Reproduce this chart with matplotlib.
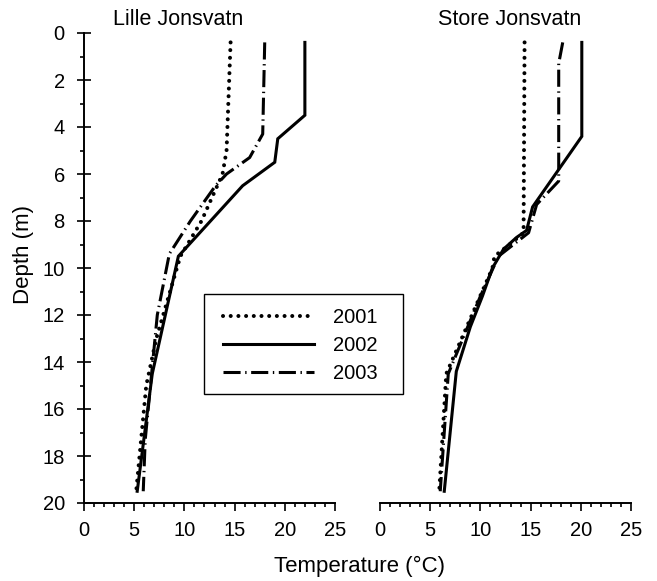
import matplotlib
matplotlib.use("Agg")
import matplotlib.pyplot as plt
from matplotlib.ticker import MultipleLocator
from matplotlib.lines import Line2D
from matplotlib.patches import Rectangle

plt.rcParams['font.family'] = ['Liberation Sans', 'DejaVu Sans']

# ---- data: Lille Jonsvatn ----
lille_2001_depth = [0.4, 5.0, 6.0, 8.0, 9.5, 13.0, 15.0, 19.5]
lille_2001_temp = [14.6, 14.2, 13.8, 11.7, 9.6, 7.2, 6.2, 5.2]
lille_2002_depth = [0.4, 3.5, 4.5, 5.5, 6.5, 9.5, 14.5, 19.5]
lille_2002_temp = [22.0, 22.0, 19.3, 19.0, 15.8, 9.4, 6.8, 5.3]
lille_2003_depth = [0.4, 4.3, 5.3, 6.0, 6.5, 8.0, 9.4, 12.0, 17.3, 19.5]
lille_2003_temp = [18.0, 17.8, 16.5, 14.2, 13.1, 10.6, 8.5, 7.3, 6.1, 5.9]

# ---- data: Store Jonsvatn ----
store_2001_depth = [0.4, 8.5, 9.0, 9.5, 10.0, 14.5, 19.5]
store_2001_temp = [14.4, 14.3, 12.9, 11.4, 11.2, 6.6, 5.9]
store_2002_depth = [0.4, 4.4, 7.4, 8.4, 8.7, 9.2, 10.0, 11.2, 12.5, 14.4, 19.5]
store_2002_temp = [20.1, 20.1, 15.2, 14.6, 13.6, 12.3, 11.2, 10.2, 9.0, 7.6, 6.4]
store_2003_depth = [0.4, 1.3, 6.3, 7.3, 8.5, 9.5, 11.2, 14.5, 19.5]
store_2003_temp = [18.2, 17.8, 17.8, 15.6, 14.8, 11.8, 10.0, 6.8, 6.0]

years = ['2001', '2002', '2003']
titles = ['Lille Jonsvatn', 'Store Jonsvatn']
x_ticks = [0, 5, 10, 15, 20, 25]
y_ticks = [0, 2, 4, 6, 8, 10, 12, 14, 16, 18, 20]

styles = {
    '2001': dict(color='black', lw=2.9, linestyle=(0, (0.01, 1.9)),
                 dash_capstyle='round', solid_capstyle='round'),
    '2002': dict(color='black', lw=2.2, linestyle='-', solid_joinstyle='miter'),
    '2003': dict(color='black', lw=2.2, linestyle=(0, (5.6, 1.5, 0.45, 1.5)),
                 dash_capstyle='butt'),
}

fig = plt.figure(figsize=(6.57, 5.81), dpi=100)
W, H = 657, 581
axL = fig.add_axes([84 / W, 1 - 503 / H, 251 / W, 470 / H])
axR = fig.add_axes([380 / W, 1 - 503 / H, 251 / W, 470 / H])

panels = [
    (axL, [(lille_2001_temp, lille_2001_depth), (lille_2002_temp, lille_2002_depth),
           (lille_2003_temp, lille_2003_depth)]),
    (axR, [(store_2001_temp, store_2001_depth), (store_2002_temp, store_2002_depth),
           (store_2003_temp, store_2003_depth)]),
]

for ax, series in panels:
    for yr, (t, d) in zip(years, series):
        ax.plot(t, d, **styles[yr])
    ax.set_xlim(0, 25)
    ax.set_ylim(20, 0)
    ax.set_xticks(x_ticks)
    ax.xaxis.set_minor_locator(MultipleLocator(1))
    ax.tick_params(axis='x', which='major', direction='out', length=5.8, width=1.2,
                   labelsize=14.5, pad=7)
    ax.tick_params(axis='x', which='minor', direction='out', length=3.2, width=1.2)
    for s in ['top', 'right']:
        ax.spines[s].set_visible(False)
    ax.spines['bottom'].set_linewidth(1.4)
    ax.spines['left'].set_linewidth(1.4)
    ax.patch.set_alpha(0)

axL.set_yticks(y_ticks)
axL.yaxis.set_minor_locator(MultipleLocator(1))
axL.tick_params(axis='y', which='major', direction='inout', length=9.6, width=1.2,
                labelsize=14.5, pad=9)
axL.tick_params(axis='y', which='minor', direction='out', length=2.9, width=1.2)

axR.spines['left'].set_visible(False)
axR.set_yticks([])
axR.yaxis.set_minor_locator(plt.NullLocator())

fig.text(178 / W, 1 - 25 / H, titles[0], ha='center', va='baseline', fontsize=15.5)
fig.text(510 / W, 1 - 25 / H, titles[1], ha='center', va='baseline', fontsize=15.5)
fig.text(360 / W, 1 - 572 / H, 'Temperature (°C)', ha='center', va='baseline', fontsize=16)
fig.text(23 / W, 1 - 254 / H, 'Depth (m)', ha='center', va='center', rotation=90, fontsize=16)

# legend box (frame drawn separately to get the wide horizontal padding)
fig.patches.append(Rectangle((204 / W, 1 - 394 / H), 199 / W, 100 / H,
                             transform=fig.transFigure, fill=False,
                             edgecolor='black', linewidth=1.0))
handles = [Line2D([], [], **styles[yr]) for yr in years]
leg = fig.legend(handles, years, loc='upper left', bbox_to_anchor=(223 / W, 1 - 308 / H),
                 borderaxespad=0, frameon=False,
                 fontsize=14.5, handlelength=4.5, handletextpad=0.95, labelspacing=0.45,
                 borderpad=0)

fig.savefig('out.png', dpi=100)
